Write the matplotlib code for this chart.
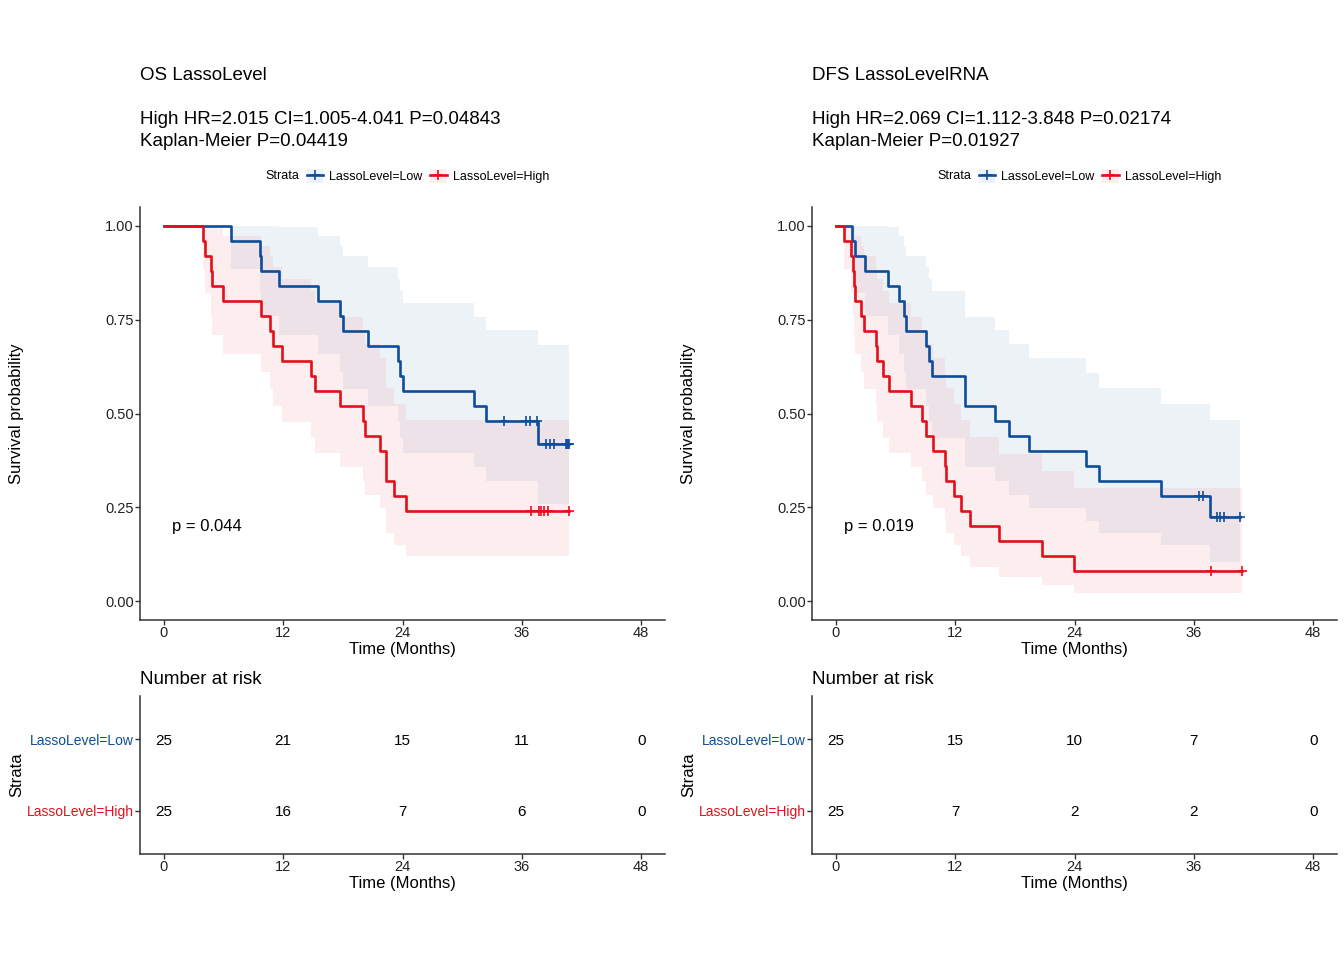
import numpy as np
import matplotlib.pyplot as plt
from matplotlib.lines import Line2D
from matplotlib.patches import Patch

plt.rcParams['font.family'] = ['Liberation Sans', 'DejaVu Sans']

blue = '#0E4D9B'
red = '#E2101B'
band_alpha = 0.07

strata = ['LassoLevel=Low', 'LassoLevel=High']
risk_times = [0, 12, 24, 36, 48]

# ---- OS LassoLevel ----
os_low_t = [6.8, 9.7, 9.8, 11.6, 15.5, 17.7, 18.0, 20.5, 23.5, 23.7, 24.1, 31.2, 32.4, 37.6]
os_low_s = [.96, .92, .88, .84, .80, .76, .72, .68, .64, .60, .56, .52, .48, .42]
os_low_up = [1, 1, 1, .997, .973, .947, .919, .890, .859, .826, .793, .758, .722, .682]
os_low_lo = [.886, .820, .761, .708, .658, .610, .564, .520, .477, .436, .396, .357, .319, .259]
os_low_cens = [34.2, 36.4, 36.8, 37.5, 38.4, 38.8, 39.2, 40.4, 40.5, 40.6, 40.7]

os_high_t = [3.9, 4.1, 4.7, 4.8, 5.9, 9.8, 10.7, 11.0, 11.9, 14.8, 15.2, 17.7, 20.0, 20.2,
             21.7, 22.3, 23.1, 24.4]
os_high_s = [.96, .92, .88, .84, .80, .76, .72, .68, .64, .60, .56, .52, .48, .44, .40, .32, .28, .24]
os_high_up = [1, 1, 1, .997, .973, .947, .919, .890, .859, .826, .793, .758, .722, .685, .647,
              .567, .525, .482]
os_high_lo = [.886, .820, .761, .708, .658, .610, .564, .520, .477, .436, .396, .357, .319, .283,
              .248, .181, .149, .120]
os_high_cens = [36.9, 37.7, 37.9, 38.2, 38.6, 40.7]

os_risk_low = [25, 21, 15, 11, 0]
os_risk_high = [25, 16, 7, 6, 0]

# ---- DFS LassoLevelRNA ----
dfs_low_t = [1.6, 1.9, 2.9, 5.2, 6.3, 6.9, 7.1, 9.1, 9.4, 9.7, 13.0, 16.0, 17.4, 19.4, 25.2,
             26.5, 32.7, 37.6]
dfs_low_s = [.96, .92, .88, .84, .80, .76, .72, .68, .64, .60, .52, .48, .44, .40, .36, .32, .28, .224]
dfs_low_up = [1, 1, 1, .997, .973, .947, .919, .890, .859, .826, .758, .722, .685, .647, .607,
              .567, .525, .482]
dfs_low_lo = [.886, .820, .761, .708, .658, .610, .564, .520, .477, .436, .357, .319, .283, .248,
              .214, .181, .149, .104]
dfs_low_cens = [36.5, 36.9, 38.3, 38.6, 39.0, 40.6]

dfs_high_t = [0.8, 1.5, 1.7, 1.8, 1.9, 2.5, 2.8, 4.0, 4.1, 4.7, 5.3, 7.6, 8.7, 9.1, 9.8, 11.0,
              11.1, 11.9, 12.6, 13.5, 16.4, 20.7, 23.9]
dfs_high_s = [.96, .92, .88, .84, .80, .76, .72, .68, .64, .60, .56, .52, .48, .44, .40, .36,
              .32, .28, .24, .20, .16, .12, .08]
dfs_high_up = [1, 1, 1, .997, .973, .947, .919, .890, .859, .826, .793, .758, .722, .685, .647,
               .607, .567, .525, .482, .438, .393, .347, .302]
dfs_high_lo = [.886, .820, .761, .708, .658, .610, .564, .520, .477, .436, .396, .357, .319, .283,
               .248, .214, .181, .149, .120, .091, .065, .042, .021]
dfs_high_cens = [37.7, 40.8]

dfs_risk_low = [25, 15, 10, 7, 0]
dfs_risk_high = [25, 7, 2, 2, 0]

panels = [
    dict(title='OS LassoLevel', hr='High HR=2.015 CI=1.005-4.041 P=0.04843',
         km='Kaplan-Meier P=0.04419', pval='p = 0.044',
         curves=[(os_low_t, os_low_s, os_low_lo, os_low_up, os_low_cens, blue),
                 (os_high_t, os_high_s, os_high_lo, os_high_up, os_high_cens, red)],
         risk=[os_risk_low, os_risk_high]),
    dict(title='DFS LassoLevelRNA', hr='High HR=2.069 CI=1.112-3.848 P=0.02174',
         km='Kaplan-Meier P=0.01927', pval='p = 0.019',
         curves=[(dfs_low_t, dfs_low_s, dfs_low_lo, dfs_low_up, dfs_low_cens, blue),
                 (dfs_high_t, dfs_high_s, dfs_high_lo, dfs_high_up, dfs_high_cens, red)],
         risk=[dfs_risk_low, dfs_risk_high]),
]

W, H = 1344, 960
fig = plt.figure(figsize=(W / 100, H / 100), dpi=100)


def style_axes(ax):
    for s in ['top', 'right']:
        ax.spines[s].set_visible(False)
    for s in ['left', 'bottom']:
        ax.spines[s].set_color('#333333')
        ax.spines[s].set_linewidth(1.1)
    ax.tick_params(direction='out', length=3.5, width=1.0, color='#333333',
                   labelsize=10.5, labelcolor='#222222', pad=1)


for i, p in enumerate(panels):
    off = i * 672
    left = (140 + off) / W
    width = 525 / W

    ax = fig.add_axes([left, 1 - 620 / H, width, (620 - 207) / H])
    style_axes(ax)
    for t, s, lo, up, cens, col in p['curves']:
        tmax = max(cens)
        x = [0] + t + [tmax]
        y = [1] + s + [s[-1]]
        ax.fill_between(x, [1] + lo + [lo[-1]], [1] + up + [up[-1]], step='post',
                        color=col, alpha=band_alpha, linewidth=0)
        ax.step(x, y, where='post', color=col, lw=1.9)
        idx = np.searchsorted(t, cens, side='right')
        cy = [1 if k == 0 else s[k - 1] for k in idx]
        ax.plot(cens, cy, ls='none', marker='+', color=col, ms=7, mew=1.2)
    ax.set_xlim(-2.4, 50.4)
    ax.set_ylim(-0.05, 1.05)
    ax.set_xticks(risk_times)
    ax.set_yticks([0, 0.25, 0.5, 0.75, 1.0])
    ax.set_yticklabels(['0.00', '0.25', '0.50', '0.75', '1.00'])
    ax.set_xlabel('Time (Months)', fontsize=12, labelpad=1)
    ax.set_ylabel('Survival probability', fontsize=12)
    ax.yaxis.set_label_coords((24 - 140) / 525, 0.5)
    ax.text(0.8, 0.2, p['pval'], fontsize=12, va='center')

    fig.text(left, 1 - 75 / H, p['title'], fontsize=13.5, va='center', ha='left')
    fig.text(left, 1 - 119 / H, p['hr'], fontsize=13.5, va='center', ha='left')
    fig.text(left, 1 - 141 / H, p['km'], fontsize=13.5, va='center', ha='left')

    # legend
    fig.text((265 + off) / W, 1 - 176 / H, 'Strata', fontsize=9, va='center', ha='left')
    handles = [(Patch(facecolor=c, alpha=band_alpha, linewidth=0),
                Line2D([], [], color=c, lw=1.9, marker='+', ms=7, mew=1.2))
               for c in [blue, red]]
    ax.legend(handles, strata, ncol=2, loc='center left', frameon=False, fontsize=9,
              bbox_to_anchor=((307 + off) / W, 1 - 176 / H), bbox_transform=fig.transFigure,
              handlelength=1.3, handleheight=1.3, handletextpad=0.5, columnspacing=0.6,
              borderpad=0, borderaxespad=0)

    # risk table
    rax = fig.add_axes([left, 1 - 854 / H, width, (854 - 696) / H])
    style_axes(rax)
    for row, (vals, col) in enumerate(zip(p['risk'], [blue, red])):
        yy = 2 - row
        for tt, v in zip(risk_times, vals):
            rax.text(tt, yy, str(v), ha='center', va='center_baseline', fontsize=11)
    rax.set_xlim(-2.4, 50.4)
    rax.set_ylim(0.4, 2.6)
    rax.set_xticks(risk_times)
    rax.set_yticks([2, 1])
    rax.set_yticklabels(strata, fontsize=10)
    for lab, col in zip(rax.get_yticklabels(), [blue, red]):
        lab.set_color(col)
    rax.set_xlabel('Time (Months)', fontsize=12, labelpad=1)
    rax.set_ylabel('Strata', fontsize=12)
    rax.yaxis.set_label_coords((24 - 140) / 525, 0.5)
    fig.text(left, 1 - 679 / H, 'Number at risk', fontsize=13.5, va='center', ha='left')

fig.savefig('out.png', dpi=100, facecolor='white')
